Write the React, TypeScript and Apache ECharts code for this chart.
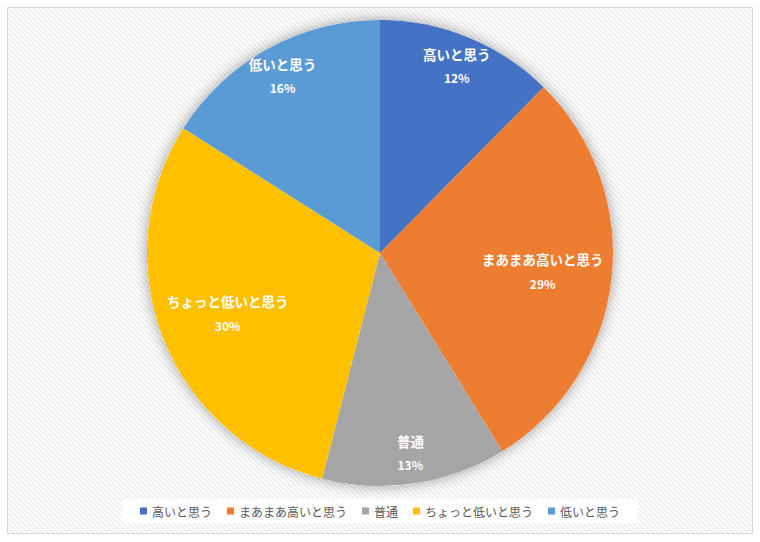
import React, { useEffect, useRef } from "react";
import * as echarts from "echarts";

const categories = ["高いと思う", "まあまあ高いと思う", "普通", "ちょっと低いと思う", "低いと思う"];
// shares (labels show them rounded)
const values = [12.4, 28.8, 12.8, 30.0, 16.0];
const colors = ["#4472C4", "#ED7D31", "#A5A5A5", "#FFC000", "#5B9BD5"];
// big slices get labels nearer the centre, small ones nearer the rim
const bigSlice = [false, true, false, true, false];

const FONT = "'Noto Sans CJK JP', 'Noto Sans', sans-serif";
const CENTER = [380, 253];
const R = 233;

const stripe =
  "data:image/svg+xml;utf8," +
  encodeURIComponent(
    '<svg xmlns="http://www.w3.org/2000/svg" width="5" height="5">' +
      '<rect width="5" height="5" fill="#ffffff"/>' +
      '<path d="M0,0 L5,5 M-1,4 L1,6 M4,-1 L6,1" stroke="#ebebeb" stroke-width="1.3"/>' +
      "</svg>"
  );

export default function App() {
  const chartRef = useRef<HTMLDivElement>(null);

  useEffect(() => {
    if (!chartRef.current) return;
    const chart = echarts.init(chartRef.current, null, { renderer: "svg" });

    const data = categories.map((name, i) => ({
      name,
      value: values[i],
      itemStyle: { color: colors[i] },
    }));

    const labelSeries = (big: boolean, inner: number) => ({
      type: "pie",
      center: CENTER,
      radius: [inner, R],
      silent: true,
      z: 3,
      itemStyle: { color: "transparent" },
      labelLine: { show: false },
      label: {
        show: true,
        position: "inside",
        fontFamily: FONT,
        formatter: "{n|{b}}\n{p|{d}%}",
        rich: {
          n: { fontSize: 13.5, fontWeight: "bold", color: "#fff", lineHeight: 24, fontFamily: FONT },
          p: { fontSize: 12, fontWeight: "bold", color: "#fff", lineHeight: 24, fontFamily: FONT },
        },
      },
      percentPrecision: 0,
      data: categories.map((name, i) => ({
        name,
        value: values[i],
        label: { show: bigSlice[i] === big },
      })),
    });

    const option = {
      animation: false,
      graphic: [
        {
          type: "rect",
          z: -10,
          shape: { x: 7.5, y: 7.5, width: 745, height: 526 },
          style: {
            fill: { image: stripe, repeat: "repeat" },
            stroke: "#d9d9d9",
            lineWidth: 1,
          },
        },
      ],
      legend: {
        data: categories,
        left: "center",
        top: 499,
        icon: "rect",
        itemWidth: 7,
        itemHeight: 7,
        itemGap: 15,
        padding: [6, 18],
        backgroundColor: "#ffffff",
        selectedMode: false,
        textStyle: { fontSize: 12, color: "#595959", fontFamily: FONT },
      },
      series: [
        {
          // shadow behind the whole pie
          type: "pie",
          center: CENTER,
          radius: R,
          silent: true,
          z: 1,
          label: { show: false },
          labelLine: { show: false },
          itemStyle: {
            color: "#ffffff",
            shadowBlur: 14,
            shadowColor: "rgba(0,0,0,0.38)",
          },
          data: [{ name: "bg", value: 1 }],
        },
        {
          type: "pie",
          center: CENTER,
          radius: R,
          z: 2,
          silent: true,
          label: { show: false },
          labelLine: { show: false },
          data,
        },
        labelSeries(true, 0.38 * R),
        labelSeries(false, 0.71 * R),
      ],
    };

    chart.setOption(option);
    return () => chart.dispose();
  }, []);

  return (
    <div
      ref={chartRef}
      style={{ position: "absolute", left: 0, top: 0, width: 760, height: 542 }}
    />
  );
}
